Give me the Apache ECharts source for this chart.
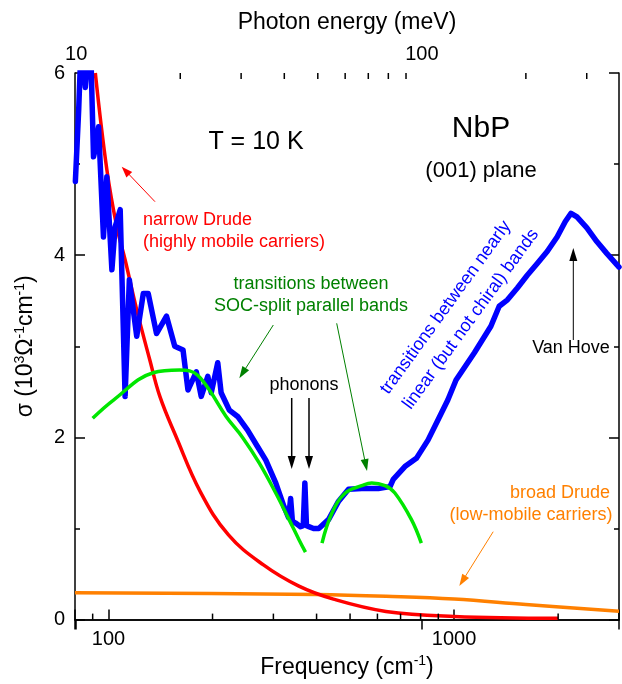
<!DOCTYPE html>
<html>
<head>
<meta charset="utf-8">
<script src="https://cdn.jsdelivr.net/npm/echarts@6/dist/echarts.min.js"></script>
<style>
html,body{margin:0;padding:0;background:#fff;}
#chart{width:622px;height:684px;}
</style>
</head>
<body>
<div id="chart"></div>
<script>
// ---- data (frequency in cm^-1, sigma in 10^3 Ohm^-1 cm^-1) ----
const blueFreq = [80.2, 82.0, 83.0, 84.5, 85.7, 87.0, 89.0, 90.5, 92.0, 93.6, 96.7, 98.9, 102.3, 104.5, 108.1, 111.7, 114.9, 120.7, 126.1, 130.3, 137.7, 147.2, 155.5, 164.3, 169.8, 179.5, 185.5, 193.8, 198.3, 207.1, 211.8, 223.7, 236.4, 252.6, 269.8, 285.2, 304.7, 322.0, 332.0, 336.5, 340.5, 347.8, 359.5, 366.0, 370.0, 374.0, 379.9, 392.0, 405.9, 433.6, 463.3, 494.9, 540.4, 603.6, 652.5, 666.7, 720.4, 777.8, 840.3, 898.0, 959.0, 1013, 1144.6, 1277.6, 1350.4, 1427, 1524, 1628, 1740, 1859, 1986, 2098, 2179, 2267, 2422, 2588, 2765, 3000];
const blueSigma = [4.81, 5.6, 6.15, 6.15, 5.84, 6.15, 6.15, 5.08, 5.2, 5.41, 4.2, 4.86, 3.84, 4.31, 4.5, 2.45, 3.73, 3.11, 3.58, 3.58, 3.14, 3.33, 3.0, 2.96, 2.52, 2.72, 2.45, 2.67, 2.49, 2.82, 2.49, 2.30, 2.23, 2.08, 1.90, 1.75, 1.50, 1.24, 1.12, 1.33, 1.08, 1.06, 1.02, 1.03, 1.50, 1.03, 1.02, 1.0, 1.0, 1.10, 1.30, 1.43, 1.44, 1.44, 1.46, 1.54, 1.68, 1.77, 1.97, 2.19, 2.41, 2.63, 2.93, 3.22, 3.44, 3.51, 3.64, 3.78, 3.91, 4.04, 4.20, 4.37, 4.46, 4.42, 4.30, 4.15, 4.02, 3.87];

const redFreq = [91.6, 98.9, 105.7, 111.7, 120.7, 131.7, 140.8, 156.8, 184.6, 222.4, 280.8, 354.4, 447.5, 634.8, 1000, 2000];
const redSigma = [6.0, 4.94, 4.31, 3.95, 3.40, 2.85, 2.45, 2.01, 1.40, 0.93, 0.60, 0.37, 0.225, 0.09, 0.035, 0.015];

const orangeFreq = [80, 198, 398, 635, 1000, 1613, 3000];
const orangeSigma = [0.294, 0.286, 0.275, 0.255, 0.225, 0.165, 0.092];

const greenLowFreq = [90.0, 103.4, 134.7, 160.6, 171.7, 181.5, 195.9, 218.9, 244.3, 272.9, 304.7, 332.8, 355.5, 371.5];
const greenLowSigma = [2.21, 2.41, 2.71, 2.74, 2.73, 2.68, 2.52, 2.23, 2.0, 1.72, 1.39, 1.10, 0.88, 0.74];

const greenHighFreq = [414.8, 443.2, 484.3, 540.4, 577.5, 631, 674, 752, 803.8];
const greenHighSigma = [0.84, 1.17, 1.39, 1.47, 1.50, 1.47, 1.39, 1.10, 0.84];

const bottomMinorTicks = [90, 200, 300, 400, 500, 600, 700, 800, 900, 2000];
const topMinorTicks = [20, 30, 40, 50, 60, 70, 80, 90, 200, 300]; // meV
const yTickValues = [0, 2, 4, 6];

const CM_PER_MEV = 8.0655;
const X_MIN = 80, X_MAX = 3000;
const FONT = 'Liberation Sans, Arial, Helvetica, sans-serif';

function zip(a, b) { return a.map((v, i) => [v, b[i]]); }

function powLabel(v) {
  const l = Math.log10(v);
  return Math.abs(l - Math.round(l)) < 1e-6 ? String(Math.round(v)) : '';
}

function tickSeries(xIdx, data, yVal, dir) {
  return {
    type: 'custom', xAxisIndex: xIdx, yAxisIndex: 0, silent: true, z: 10,
    data: data.map(v => [v, yVal]),
    encode: { x: 0, y: 1 },
    renderItem: function (params, api) {
      const p = api.coord([api.value(0), api.value(1)]);
      return { type: 'line', shape: { x1: p[0], y1: p[1], x2: p[0], y2: p[1] + dir * 6 },
               style: { stroke: '#000', lineWidth: 1.5 } };
    }
  };
}

function arrow(x1, y1, x2, y2, color, lw, hl, hw) {
  const dx = x2 - x1, dy = y2 - y1, L = Math.sqrt(dx * dx + dy * dy);
  const ux = dx / L, uy = dy / L, px = -uy, py = ux;
  const bx = x2 - ux * hl, by = y2 - uy * hl;
  return [
    { type: 'line', shape: { x1: x1, y1: y1, x2: bx + ux * 1, y2: by + uy * 1 }, style: { stroke: color, lineWidth: lw }, z: 20 },
    { type: 'polygon', shape: { points: [[x2, y2], [bx + px * hw / 2, by + py * hw / 2], [bx - px * hw / 2, by - py * hw / 2]] }, style: { fill: color }, z: 20 }
  ];
}

function txt(t, x, y, color, size, opts) {
  opts = opts || {};
  return {
    type: 'text', x: x, y: y, rotation: opts.rotation || 0, z: 20,
    style: { text: t, fill: color, fontSize: size, fontFamily: FONT,
             align: opts.align || 'center', verticalAlign: 'middle',
             textAlign: opts.align || 'center', textVerticalAlign: 'middle' }
  };
}

const chart = echarts.init(document.getElementById('chart'), null, { renderer: 'canvas' });

const lineBase = { type: 'line', showSymbol: false, symbol: 'none', clip: true, silent: true, animation: false };

const graphics = [].concat(
  [txt('T = 10 K', 256, 142, '#000', 25),
   txt('NbP', 481, 129, '#000', 30),
   txt('(001) plane', 481, 171, '#000', 22),
   txt('narrow Drude', 143, 220, '#ff0000', 18, { align: 'left' }),
   txt('(highly mobile carriers)', 143, 242, '#ff0000', 18, { align: 'left' }),
   txt('transitions between', 311, 284, '#008000', 18),
   txt('SOC-split parallel bands', 311, 306, '#008000', 18),
   txt('phonons', 304, 385, '#000', 18),
   txt('transitions between nearly', 445.8, 307.5, '#0000ff', 18, { rotation: 54 * Math.PI / 180 }),
   txt('linear (but not chiral) bands', 470.8, 319.2, '#0000ff', 18, { rotation: 54 * Math.PI / 180 }),
   txt('Van Hove', 571, 348, '#000', 18),
   txt('broad Drude', 560, 493, '#ff8000', 18),
   txt('(low-mobile carriers)', 531, 515, '#ff8000', 18)],
  arrow(155, 201.7, 121.7, 166.7, '#ff0000', 1, 11, 8),
  arrow(273.3, 325, 239.3, 378.3, '#008000', 1, 12, 8),
  arrow(336.7, 323.3, 367, 471, '#008000', 1, 12, 8),
  arrow(291.7, 398, 291.7, 469, '#000', 1.5, 13, 8),
  arrow(309, 398, 309, 469, '#000', 1.5, 13, 8),
  arrow(573.3, 340, 573.3, 248, '#000', 1, 13, 8),
  arrow(493.2, 531.7, 459.3, 586, '#ff8000', 1, 12, 8)
);

const titleRich = {
  n: { fontSize: 23, fontFamily: FONT, color: '#000', lineHeight: 26 },
  s: { fontSize: 14, fontFamily: FONT, color: '#000', verticalAlign: 'top', lineHeight: 14 }
};

const option = {
  animation: false,
  backgroundColor: '#fff',
  grid: { left: 75, right: 1, top: 73, bottom: 64, containLabel: false },
  xAxis: [
    {
      type: 'log', logBase: 10, min: X_MIN, max: X_MAX, position: 'bottom',
      name: '{n|Frequency (cm}{s|-1}{n|)}', nameLocation: 'middle', nameGap: 33,
      nameTextStyle: { rich: titleRich },
      axisLine: { show: true, lineStyle: { color: '#000', width: 1.5 } },
      axisTick: { show: true, inside: true, length: 10, lineStyle: { color: '#000', width: 1.5 } },
      axisLabel: { formatter: powLabel, fontSize: 20, fontFamily: FONT, color: '#000', margin: 10 },
      splitLine: { show: false }
    },
    {
      type: 'log', logBase: 10, min: X_MIN / CM_PER_MEV, max: X_MAX / CM_PER_MEV, position: 'top',
      name: 'Photon energy (meV)', nameLocation: 'middle', nameGap: 39,
      nameTextStyle: { fontSize: 23, fontFamily: FONT, color: '#000' },
      axisLine: { show: true, lineStyle: { color: '#000', width: 1.5 } },
      axisTick: { show: true, inside: true, length: 10, lineStyle: { color: '#000', width: 1.5 } },
      axisLabel: { formatter: powLabel, fontSize: 20, fontFamily: FONT, color: '#000', margin: 9 },
      splitLine: { show: false }
    }
  ],
  yAxis: [
    {
      type: 'value', min: 0, max: 6, interval: 2, position: 'left',
      name: '{n|σ (10}{s|3}{n|Ω}{s|-1}{n|cm}{s|-1}{n|)}', nameLocation: 'middle', nameGap: 36, nameRotate: 90,
      nameTextStyle: { rich: titleRich },
      axisLine: { show: true, lineStyle: { color: '#000', width: 1.5 } },
      axisTick: { show: true, inside: true, length: 10, lineStyle: { color: '#000', width: 1.5 } },
      minorTick: { show: true, splitNumber: 2, length: 5, lineStyle: { color: '#000', width: 1.5 } },
      axisLabel: { fontSize: 20, fontFamily: FONT, color: '#000', margin: 10,
                   formatter: v => (yTickValues.indexOf(v) >= 0 ? String(v) : '') },
      splitLine: { show: false }
    },
    {
      type: 'value', min: 0, max: 6, interval: 2, position: 'right',
      axisLine: { show: true, lineStyle: { color: '#000', width: 1.5 } },
      axisTick: { show: true, inside: true, length: 10, lineStyle: { color: '#000', width: 1.5 } },
      minorTick: { show: true, splitNumber: 2, length: 5, lineStyle: { color: '#000', width: 1.5 } },
      axisLabel: { show: false },
      splitLine: { show: false }
    }
  ],
  series: [
    Object.assign({}, lineBase, { name: 'broad Drude', data: zip(orangeFreq, orangeSigma), smooth: 0.4, z: 3,
      lineStyle: { color: '#ff8000', width: 3.5 } }),
    Object.assign({}, lineBase, { name: 'narrow Drude', data: zip(redFreq, redSigma), smooth: 0.4, z: 3,
      lineStyle: { color: '#ff0000', width: 3.5 } }),
    Object.assign({}, lineBase, { name: 'measured', data: zip(blueFreq, blueSigma), smooth: false, z: 4,
      lineStyle: { color: '#0000ff', width: 5.5, join: 'round', cap: 'round' } }),
    Object.assign({}, lineBase, { name: 'SOC low', data: zip(greenLowFreq, greenLowSigma), smooth: 0.4, z: 5,
      lineStyle: { color: '#00e600', width: 3.5 } }),
    Object.assign({}, lineBase, { name: 'SOC high', data: zip(greenHighFreq, greenHighSigma), smooth: 0.4, z: 5,
      lineStyle: { color: '#00e600', width: 3.5 } }),
    tickSeries(0, bottomMinorTicks, 0, -1),
    tickSeries(1, topMinorTicks, 6, 1)
  ],
  graphic: { elements: graphics }
};

chart.setOption(option);
</script>
</body>
</html>
